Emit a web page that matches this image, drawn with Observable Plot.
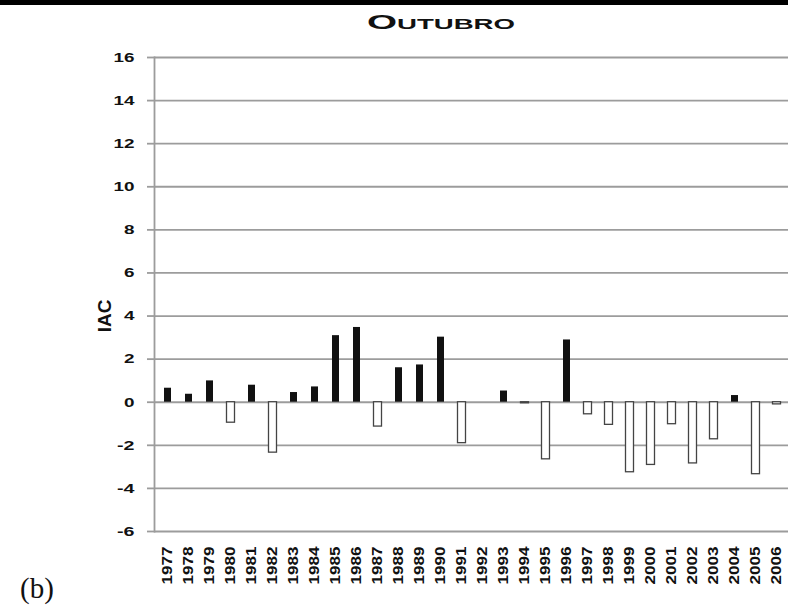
<!DOCTYPE html>
<html>
<head>
<meta charset="utf-8">
<script src="https://cdn.jsdelivr.net/npm/d3@7"></script>
<script src="https://cdn.jsdelivr.net/npm/@observablehq/plot@0.6"></script>
<style>
  html, body { margin: 0; padding: 0; background: #fff; }
  #wrap { position: relative; width: 788px; height: 611px; overflow: hidden; background: #fff; }
  #wrap svg { position: absolute; left: 0; top: 0; }
</style>
</head>
<body>
<div id="wrap"></div>
<script>
// ---- data ----
const years = ["1977","1978","1979","1980","1981","1982","1983","1984","1985","1986",
               "1987","1988","1989","1990","1991","1992","1993","1994","1995","1996",
               "1997","1998","1999","2000","2001","2002","2003","2004","2005","2006"];
const iac   = [0.65, 0.37, 0.99, -0.95, 0.79, -2.34, 0.45, 0.71, 3.09, 3.47,
               -1.13, 1.60, 1.73, 3.02, -1.90, 0, 0.52, -0.05, -2.65, 2.89,
               -0.56, -1.05, -3.25, -2.91, -1.02, -2.84, -1.72, 0.31, -3.34, -0.10];
const yTicks = [-6, -4, -2, 0, 2, 4, 6, 8, 10, 12, 14, 16];
const titleText = "Outubro";
const yLabel = "IAC";
const panelLabel = "(b)";

const rows = years.map((y, i) => ({year: y, v: iac[i]}));
const pos = rows.filter(d => d.v > 0);
const neg = rows.filter(d => d.v < 0);

const grid = "#9c9c9c";
const chart = Plot.plot({
  width: 788,
  height: 611,
  marginLeft: 154,
  marginRight: 0,
  marginTop: 57,
  marginBottom: 80,
  style: {fontFamily: "'Liberation Sans', Arial, sans-serif", fontWeight: "bold", color: "#111", background: "transparent"},
  x: {type: "band", domain: years, range: [154, 790], paddingInner: 0.67, paddingOuter: 0.33, align: 0.5},
  y: {domain: [-6, 16], range: [531, 57]},
  marks: [
    Plot.ruleY(yTicks, {stroke: grid, strokeWidth: 1.8}),
    Plot.frame({anchor: "left", stroke: grid, strokeWidth: 1.8}),
    Plot.axisY(yTicks, {tickSize: 7, tickPadding: 13, stroke: grid, strokeWidth: 1.8, fontSize: 13.5, label: null, tickFormat: d => String(d)}),
    Plot.axisX({tickSize: 0, tickPadding: 15, tickRotate: -90, fontSize: 14, label: null}),
    Plot.barY(pos, {x: "year", y: "v", fill: "#111"}),
    Plot.barY(neg, {x: "year", y: "v", fill: "#fff", stroke: "#444", strokeWidth: 1.3, insetLeft: -0.5, insetRight: -0.5})
  ]
});
document.getElementById("wrap").appendChild(chart);

// stretch tick labels to the reference's proportions
d3.select(chart).selectAll('g[aria-label="x-axis tick label"] text')
  .attr("textLength", 38).attr("lengthAdjust", "spacingAndGlyphs");
d3.select(chart).selectAll('g[aria-label="y-axis tick label"] text')
  .each(function() {
    const t = this.textContent;
    const L = [...t].reduce((s, c) => s + (c === "-" ? 7 : 10.5), 0);
    d3.select(this).attr("textLength", L).attr("lengthAdjust", "spacingAndGlyphs");
  });

// overlay: top band, title, y label, panel label
const ov = d3.select("#wrap").append("svg").attr("width", 788).attr("height", 611);
ov.append("rect").attr("x", 0).attr("y", 0).attr("width", 788).attr("height", 5).attr("fill", "#000");
ov.append("text").text(titleText)
  .attr("x", 441).attr("y", 29).attr("text-anchor", "middle")
  .attr("font-family", "'Liberation Sans', Arial, sans-serif").attr("font-weight", "bold")
  .attr("font-size", 21).style("font-variant", "small-caps")
  .attr("textLength", 148).attr("lengthAdjust", "spacingAndGlyphs").attr("fill", "#111");
ov.append("text").text(yLabel)
  .attr("transform", "translate(111,316) rotate(-90)").attr("text-anchor", "middle")
  .attr("font-family", "'Liberation Sans', Arial, sans-serif").attr("font-weight", "bold")
  .attr("font-size", 19).attr("fill", "#111");
ov.append("text").text(panelLabel)
  .attr("x", 20).attr("y", 598)
  .attr("font-family", "'Liberation Serif', 'Times New Roman', serif")
  .attr("font-size", 29).attr("fill", "#111");
</script>
</body>
</html>
